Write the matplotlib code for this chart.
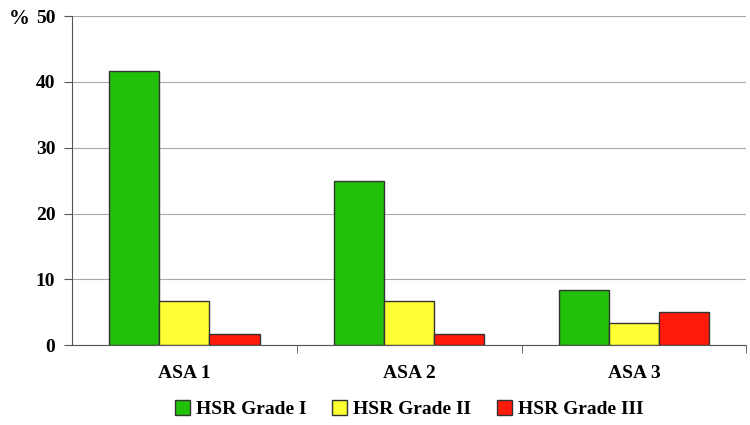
import numpy as np
import matplotlib.pyplot as plt

categories = ["ASA 1", "ASA 2", "ASA 3"]
grade_1 = [41.7, 25.0, 8.3]
grade_2 = [6.7, 6.7, 3.3]
grade_3 = [1.7, 1.7, 5.0]
series_names = ["HSR Grade I", "HSR Grade II", "HSR Grade III"]
colors = ["#22c00a", "#ffff33", "#ff1a0a"]

plt.rcParams["font.family"] = ["Liberation Serif", "DejaVu Serif"]
plt.rcParams["font.weight"] = "bold"

fig = plt.figure(figsize=(7.5, 4.25), dpi=100)
ax = fig.add_axes([0.096, 0.188, 0.899, 0.774])

x = np.arange(len(categories))
w = 0.223
for i, (vals, name, c) in enumerate(zip([grade_1, grade_2, grade_3], series_names, colors)):
    ax.bar(x + (i - 1) * w, vals, width=w, color=c, edgecolor="#333333",
           linewidth=1, label=name, zorder=3)

ax.set_xlim(-0.5, 2.5)
ax.set_ylim(0, 50)
ax.set_yticks([0, 10, 20, 30, 40, 50])
ax.yaxis.grid(True, color="#aaaaaa", linewidth=0.8, zorder=0)
ax.set_axisbelow(True)
ax.set_xticks(x)
ax.set_xticklabels(categories, fontsize=14, fontweight="bold")
ax.set_xticks([0.5, 1.5, 2.5], minor=True)
ax.tick_params(axis="x", which="major", length=0, pad=14)
ax.tick_params(axis="x", which="minor", length=6, color="#555555")
ax.tick_params(axis="y", length=6, color="#555555", labelsize=14, pad=6)
for lab in ax.get_yticklabels():
    lab.set_fontweight("bold")

for s in ["top", "right"]:
    ax.spines[s].set_visible(False)
ax.spines["left"].set_color("#555555")
ax.spines["bottom"].set_color("#555555")

fig.text(0.012, 0.955, "%", fontsize=15, fontweight="bold", va="center")

ax.legend(loc="center", bbox_to_anchor=(0.5, -0.195), ncol=3, frameon=False,
          handlelength=0.8, handleheight=0.8, handletextpad=0.3,
          columnspacing=1.3, prop={"weight": "bold", "size": 14})

plt.savefig("out.png", dpi=100)
